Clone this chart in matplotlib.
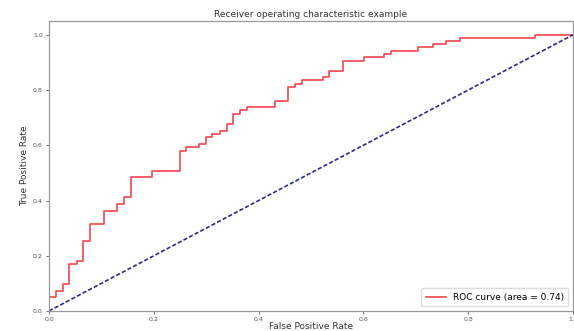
import matplotlib
matplotlib.use("Agg")
import matplotlib.pyplot as plt

# ROC curve corners
fpr = [0.0, 0.0, 0.013, 0.013, 0.026, 0.026, 0.039, 0.039, 0.053, 0.053,
       0.064, 0.064, 0.078, 0.078, 0.105, 0.105, 0.13, 0.13, 0.144, 0.144,
       0.156, 0.156, 0.196, 0.196, 0.25, 0.25, 0.261, 0.261, 0.286, 0.286,
       0.3, 0.3, 0.312, 0.312, 0.327, 0.327, 0.34, 0.34, 0.352, 0.352,
       0.365, 0.365, 0.378, 0.378, 0.432, 0.432, 0.456, 0.456, 0.47, 0.47,
       0.483, 0.483, 0.523, 0.523, 0.535, 0.535, 0.561, 0.561, 0.602, 0.602,
       0.64, 0.64, 0.653, 0.653, 0.705, 0.705, 0.732, 0.732, 0.757, 0.757,
       0.784, 0.784, 0.928, 0.928, 1.0]
tpr = [0.0, 0.05, 0.05, 0.074, 0.074, 0.097, 0.097, 0.17, 0.17, 0.182,
       0.182, 0.255, 0.255, 0.315, 0.315, 0.363, 0.363, 0.388, 0.388, 0.412,
       0.412, 0.484, 0.484, 0.508, 0.508, 0.58, 0.58, 0.592, 0.592, 0.605,
       0.605, 0.629, 0.629, 0.641, 0.641, 0.653, 0.653, 0.678, 0.678, 0.714,
       0.714, 0.726, 0.726, 0.738, 0.738, 0.762, 0.762, 0.81, 0.81, 0.822,
       0.822, 0.836, 0.836, 0.847, 0.847, 0.87, 0.87, 0.906, 0.906, 0.919,
       0.919, 0.931, 0.931, 0.943, 0.943, 0.955, 0.955, 0.967, 0.967, 0.979,
       0.979, 0.99, 0.99, 1.0, 1.0]
roc_auc = 0.74
chance = [0.0, 1.0]
xticks = [0.0, 0.2, 0.4, 0.6, 0.8, 1.0]
yticks = [0.0, 0.2, 0.4, 0.6, 0.8, 1.0]

fig = plt.figure(figsize=(5.74, 3.31), dpi=100)
ax = fig.add_axes([49/574, 20/331, 524/574, 290/331])

ax.plot(fpr, tpr, color='#f4464f', lw=1.2, label='ROC curve (area = %0.2f)' % roc_auc)
ax.plot(chance, chance, color='#2b2b85', lw=1.2, linestyle='--', dashes=(2.5, 1.3))

ax.set_xlim(0.0, 1.0)
ax.set_ylim(0.0, 1.05)
ax.set_xticks(xticks)
ax.set_yticks(yticks)
ax.set_xticklabels(['%.1f' % t for t in xticks])
ax.set_yticklabels(['%.1f' % t for t in yticks])
ax.tick_params(labelsize=4.5, colors='#555555', length=2.5, width=0.6, pad=2)
for s in ax.spines.values():
    s.set_color('#999999')
    s.set_linewidth(0.9)

ax.set_xlabel('False Positive Rate', fontsize=6.5, color='#333333', labelpad=0)
ax.set_ylabel('True Positive Rate', fontsize=6.5, color='#333333', labelpad=3)
ax.set_title('Receiver operating characteristic example', fontsize=6.5, color='#333333', pad=3)
leg = ax.legend(loc='lower right', fontsize=6.5, handlelength=2.2, borderpad=0.5,
                framealpha=1.0, edgecolor='#dddddd', fancybox=True)

fig.savefig('out.png', dpi=100)
